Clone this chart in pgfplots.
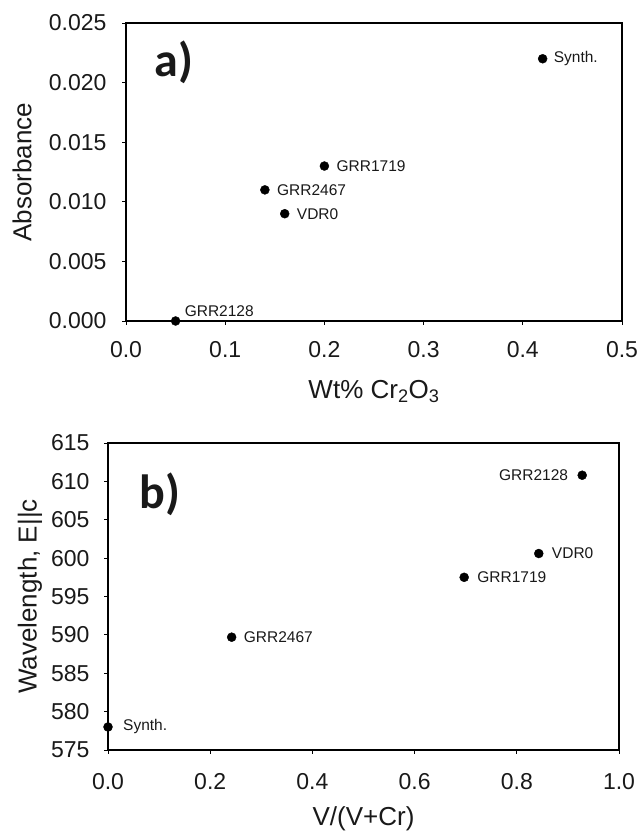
\documentclass[border=0pt]{standalone}
\usepackage{fontspec}
\setmainfont{Liberation Sans}
\newfontfamily\labfont{Carlito}
\usepackage{pgfplots}
\pgfplotsset{compat=1.18}
\pgfplotsset{
  myaxis/.style={
    scale only axis, anchor=south west, clip=false,
    scaled ticks=false,
    tick align=outside, tick pos=left, major tick length=4pt,
    axis line style={line width=1.1pt, black},
    every tick/.style={black, line width=0.9pt},
    ticklabel style={font=\fontsize{23}{23}\selectfont, text=black!90},
    label style={font=\fontsize{26}{26}\selectfont, text=black!90},
  },
  pts/.style={only marks, mark=*, mark size=4.5pt, black, mark options={fill=black}},
}
\tikzset{
  lab/.style={font=\fontsize{15.5}{15.5}\selectfont, inner sep=0pt, text=black!90},
  panel/.style={anchor=base west, inner sep=0pt, font=\labfont\bfseries\fontsize{48}{48}\selectfont, text=black!90},
}
\pgfplotstableread{
x y
0.05 0.000
0.14 0.011
0.16 0.009
0.20 0.013
0.42 0.022
}\tabA
\pgfplotstableread{
x y
0.000 578.0
0.242 589.7
0.697 597.5
0.843 600.6
0.928 610.8
}\tabB
\begin{document}
\begin{tikzpicture}[x=1pt,y=1pt]
\useasboundingbox (0,0) rectangle (639,832);
\begin{axis}[myaxis,
  at={(126pt,511pt)}, width=496pt, height=298pt,
  xmin=0, xmax=0.5, ymin=0, ymax=0.025,
  xtick={0,0.1,0.2,0.3,0.4,0.5}, xticklabels={0.0,0.1,0.2,0.3,0.4,0.5},
  ytick={0,0.005,0.010,0.015,0.020,0.025}, yticklabels={0.000,0.005,0.010,0.015,0.020,0.025},
  xticklabel style={yshift=-13pt},
  yticklabel style={xshift=-12pt},
  xlabel={Wt\% Cr\textsubscript{2}O\textsubscript{3}},
  xlabel style={at={(axis description cs:0.5,-0.236)}, anchor=center},
  ylabel={Absorbance},
  ylabel style={at={(axis description cs:-0.2097,0.5)}, anchor=center},
]
\addplot[pts] table {\tabA};
\node[lab, anchor=south west] at (axis cs:0.05,0) [xshift=9pt, yshift=4pt] {GRR2128};
\node[lab, anchor=west] at (axis cs:0.14,0.011) [xshift=12pt] {GRR2467};
\node[lab, anchor=west] at (axis cs:0.16,0.009) [xshift=12pt] {VDR0};
\node[lab, anchor=west] at (axis cs:0.20,0.013) [xshift=12pt] {GRR1719};
\node[lab, anchor=west] at (axis cs:0.42,0.022) [xshift=11pt] {Synth.};
\node[panel] at (rel axis cs:0.058,0.819) {a)};
\end{axis}
\begin{axis}[myaxis,
  at={(108pt,82pt)}, width=511pt, height=307pt,
  xmin=0, xmax=1, ymin=575, ymax=615,
  xtick={0,0.2,0.4,0.6,0.8,1.0}, xticklabels={0.0,0.2,0.4,0.6,0.8,1.0},
  ytick={575,580,...,615}, yticklabels={575,580,585,590,595,600,605,610,615},
  xticklabel style={yshift=-16pt},
  yticklabel style={xshift=-11pt},
  xlabel={V/(V+Cr)},
  xlabel style={at={(axis description cs:0.5,-0.224)}, anchor=center},
  ylabel={Wavelength, E||c},
  ylabel style={at={(axis description cs:-0.1526,0.5)}, anchor=center},
]
\addplot[pts] table {\tabB};
\node[lab, anchor=west] at (axis cs:0,578) [xshift=15pt] {Synth.};
\node[lab, anchor=west] at (axis cs:0.242,589.7) [xshift=12pt] {GRR2467};
\node[lab, anchor=west] at (axis cs:0.697,597.5) [xshift=13pt] {GRR1719};
\node[lab, anchor=west] at (axis cs:0.843,600.6) [xshift=13pt] {VDR0};
\node[lab, anchor=east] at (axis cs:0.928,610.8) [xshift=-14pt] {GRR2128};
\node[panel] at (rel axis cs:0.061,0.788) {b)};
\end{axis}
\end{tikzpicture}
\end{document}
